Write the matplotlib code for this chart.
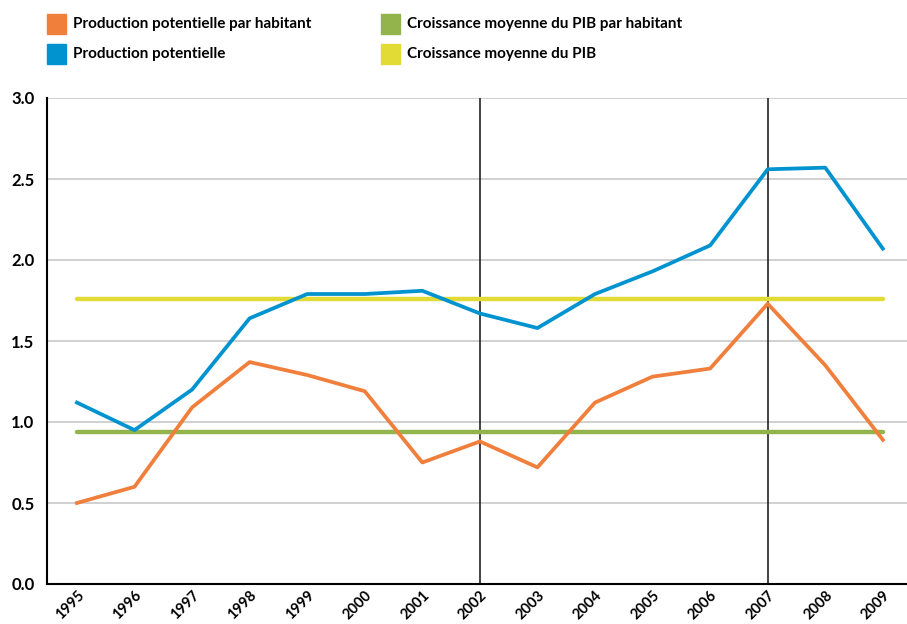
import matplotlib
matplotlib.use("Agg")
import matplotlib.pyplot as plt
import matplotlib.transforms as mtransforms
from matplotlib.patches import Rectangle

years = list(range(1995, 2010))
prod_pot = [1.12, 0.95, 1.20, 1.64, 1.79, 1.79, 1.81, 1.67, 1.58, 1.79, 1.93, 2.09, 2.56, 2.57, 2.07]
prod_pot_hab = [0.50, 0.60, 1.09, 1.37, 1.29, 1.19, 0.75, 0.88, 0.72, 1.12, 1.28, 1.33, 1.73, 1.35, 0.89]
croiss_pib = 1.76
croiss_pib_hab = 0.94
vlines_years = [2002, 2007]
yticks = [0.0, 0.5, 1.0, 1.5, 2.0, 2.5, 3.0]

labels = ["Production potentielle par habitant", "Production potentielle",
          "Croissance moyenne du PIB par habitant", "Croissance moyenne du PIB"]
c_orange = "#F07F3C"
c_blue = "#0093D0"
c_green = "#93B44C"
c_yellow = "#E2DA35"

plt.rcParams['font.family'] = ['Lato', 'DejaVu Sans']

fig = plt.figure(figsize=(9.07, 6.24), dpi=100)
ax = fig.add_axes([47/907, 1-584/624, 1-47/907, (584-98)/624])

for yv in yticks[1:]:
    ax.axhline(yv, color="#C8C8C8", lw=1.2, zorder=1)

for vy in vlines_years:
    ax.plot([vy, vy], [0, 3.0], color="#222222", lw=1.2, zorder=2)

ax.plot([years[0], years[-1]], [croiss_pib, croiss_pib], color=c_yellow, lw=3.2, solid_capstyle='round', zorder=3)
ax.plot([years[0], years[-1]], [croiss_pib_hab, croiss_pib_hab], color=c_green, lw=3.2, solid_capstyle='round', zorder=3)
ax.plot(years, prod_pot, color=c_blue, lw=2.7, zorder=4)
ax.plot(years, prod_pot_hab, color=c_orange, lw=2.7, zorder=4)

ax.set_xlim(1994.48, 2009.42)
ax.set_ylim(0, 3.0)
ax.set_yticks(yticks)
ax.set_yticklabels([f"{v:.1f}" for v in yticks], fontsize=12, fontweight='bold')
ax.set_xticks(years)
ax.set_xticklabels([str(y) for y in years], fontsize=10.5, fontweight='bold', rotation=45,
                   ha='right', va='top', rotation_mode='anchor')
offset = mtransforms.ScaledTranslation(9/100, 0, fig.dpi_scale_trans)
for lab in ax.get_xticklabels():
    lab.set_transform(lab.get_transform() + offset)
ax.tick_params(axis='both', length=0)
ax.tick_params(axis='x', pad=3)
ax.tick_params(axis='y', pad=9)
for s in ['top', 'right']:
    ax.spines[s].set_visible(False)
ax.spines['left'].set_color('black')
ax.spines['bottom'].set_color('black')
ax.spines['left'].set_linewidth(1.5)
ax.spines['bottom'].set_linewidth(1.5)

# legend
leg = [(47, 14, c_orange, labels[0]), (47, 44, c_blue, labels[1]),
       (381, 14, c_green, labels[2]), (381, 44, c_yellow, labels[3])]
for x, y, c, t in leg:
    fig.patches.append(Rectangle((x/907, 1-(y+20)/624), 19/907, 20/624, transform=fig.transFigure,
                                 color=c, figure=fig))
    fig.text((x+26)/907, 1-(y+10)/624, t, fontsize=11, fontweight='bold', va='center', ha='left')

fig.savefig("out.png", dpi=100)
